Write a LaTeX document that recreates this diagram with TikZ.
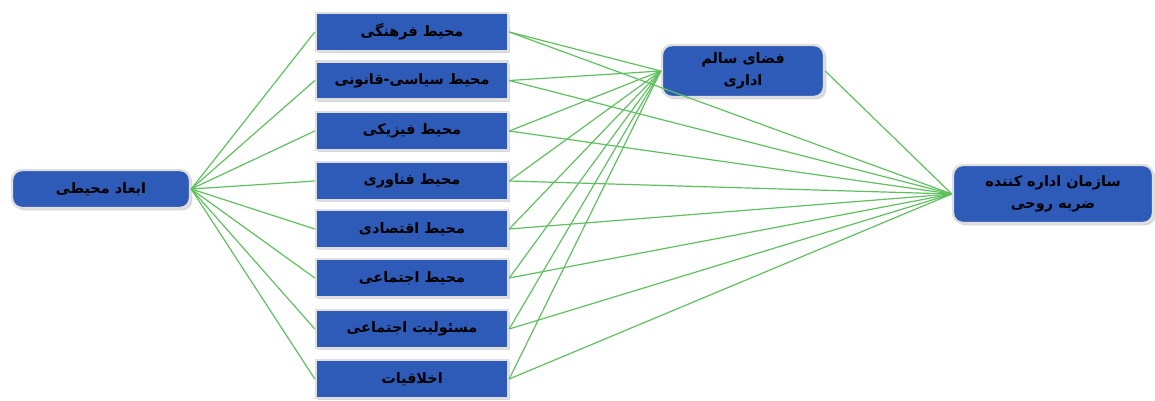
\documentclass[tikz,border=0pt]{standalone}
\usepackage{fontspec}
\usepackage{tikz}
\usetikzlibrary{shadows}
\TeXXeTstate=1
\newfontfamily\arabicfont[Script=Arabic]{DejaVu Sans}
\definecolor{boxblue}{RGB}{46,90,184}
\definecolor{linkgreen}{RGB}{96,192,96}
\newcommand{\fa}[1]{\arabicfont\bfseries\beginR #1\endR}

\begin{document}
\begin{tikzpicture}[x=0.5pt,y=-0.5pt,font=\fontsize{7.2}{10}\selectfont]
  \useasboundingbox (0,0) rectangle (1155,401);
  \tikzset{
    dimbox/.style={fill=boxblue,draw=gray!25,line width=1.2pt,text=black,align=center,
      inner xsep=2pt,drop shadow={shadow xshift=1.2pt,shadow yshift=-1.2pt,fill=gray!60}},
    roundbox/.style={dimbox,rounded corners=5pt},
    link/.style={linkgreen,line width=0.6pt}
  }
  % main nodes
  \node[roundbox,minimum width=89pt,minimum height=19pt] (abaad) at (101,189) {\fa{ابعاد محیطی}};
  \node[roundbox,minimum width=81pt,minimum height=26pt,font=\fontsize{7.2}{11}\selectfont] (faza) at (743,71)
    {\fa{فضای سالم}\\\fa{اداری}};
  \node[roundbox,minimum width=100pt,minimum height=29pt,font=\fontsize{7.2}{11}\selectfont] (sazman) at (1053,194)
    {\fa{سازمان اداره کننده}\\\fa{ضربه روحی}};
  % middle column
  \foreach \name/\y/\txt in {farhangi/32/محیط فرهنگی, siasi/80.5/محیط سیاسی-قانونی,
      fiziki/131/محیط فیزیکی, fanavari/181/محیط فناوری, eghtesadi/229/محیط اقتصادی,
      ejtemaei/278/محیط اجتماعی, masooliat/329/مسئولیت اجتماعی, akhlaghiat/379/اخلاقیات}{
    \node[dimbox,minimum width=96pt,minimum height=19pt] (\name) at (412,\y) {\fa{\txt}};
  }
  % links
  \foreach \name in {farhangi,siasi,fiziki,fanavari,eghtesadi,ejtemaei,masooliat,akhlaghiat}{
    \draw[link] (abaad.east) -- (\name.west);
    \draw[link] (\name.east) -- (faza.west);
    \draw[link] (\name.east) -- (sazman.west);
  }
  \draw[link] (faza.east) -- (sazman.west);
\end{tikzpicture}
\end{document}
